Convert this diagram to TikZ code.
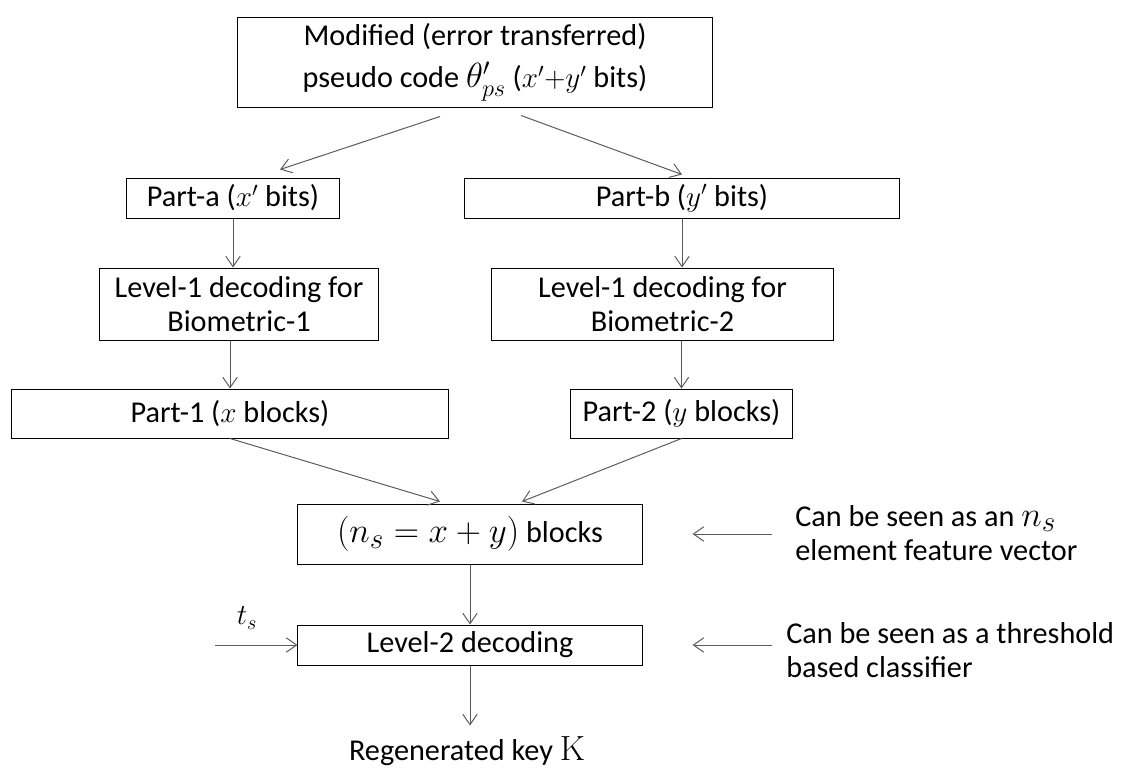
\documentclass[tikz,border=0pt]{standalone}
\usepackage[no-math]{fontspec}
\setmainfont{Carlito}
\usepackage{tikz}
\usetikzlibrary{arrows.meta,positioning}
\definecolor{linegray}{RGB}{90,90,90}
\newcommand\bigmath[1]{{\fontsize{30}{30}\selectfont$#1$}}
\newcommand\midmath[1]{{\fontsize{26}{26}\selectfont$#1$}}

\begin{document}
\begin{tikzpicture}[
    x=0.025cm, y=-0.025cm,
    font=\fontsize{21.5}{24}\selectfont,
    box/.style={
        rectangle, draw=black, fill=white,
        line width=0.7pt,
        align=center, inner sep=2pt
    },
    note/.style={anchor=west, align=left, inner sep=0pt},
    flow/.style={-{Straight Barb[length=2.6mm,width=3.6mm]}, draw=linegray, line width=0.7pt}
]

\useasboundingbox (0,0) rectangle (1122,769);

\node[box, minimum width=11.85cm, minimum height=2.225cm] (code) at (475,62.5) {Modified (error transferred)\\[6pt] pseudo code \midmath{\theta'_{ps}} ($x'{+}y'$ bits)};

\node[box, minimum width=5.3cm, minimum height=1cm] (pa) at (233,198) {Part-a ($x'$ bits)};
\node[box, minimum width=10.85cm, minimum height=1cm] (pb) at (682,198) {Part-b ($y'$ bits)};

\node[box, minimum width=6.95cm, minimum height=1.8cm] (deca) at (239,304) {Level-1 decoding for\\ Biometric-1};
\node[box, minimum width=8.525cm, minimum height=1.8cm] (decb) at (662.5,304) {Level-1 decoding for\\ Biometric-2};

\node[box, minimum width=10.9cm, minimum height=1.225cm] (p1) at (230,413.5) {Part-1 ($x$ blocks)};
\node[box, minimum width=5.525cm, minimum height=1.225cm] (p2) at (681.5,413.5) {Part-2 ($y$ blocks)};

\node[box, minimum width=8.6cm, minimum height=1.5cm] (blocks) at (470,534) {\bigmath{(n_s = x + y)} blocks};
\node[box, minimum width=8.6cm, minimum height=1cm] (dec2) at (470,645) {Level-2 decoding};
\node (key) at (467,751) {Regenerated key \midmath{\mathrm{K}}};

\node[font=\fontsize{22}{22}\selectfont] (tsl) at (247,618) {$t_s$};
\coordinate (tsin) at (215,645);

\node[note] (n1) at (795,533) {Can be seen as an \bigmath{n_s}\\ element feature vector};
\node[note] (n2) at (786,650) {Can be seen as a threshold\\ based classifier};

\draw[flow] ([shift={(-35,9)}]code.south) -- ([shift={(47,-8)}]pa.north);
\draw[flow] ([shift={(46,8)}]code.south) -- ([shift={(0,-3)}]pb.north);
\draw[flow] (pa.south) -- (pa.south |- deca.north);
\draw[flow] (pb.south) -- (pb.south |- decb.north);
\draw[flow] (p1.north |- deca.south) -- (p1.north);
\draw[flow] (p2.north |- decb.south) -- (p2.north);
\draw[flow] (p1.south) -- ([shift={(-30,-2)}]blocks.north);
\draw[flow] (p2.south) -- ([shift={(52,-2)}]blocks.north);
\draw[flow] (blocks.south) -- (dec2.north);
\draw[flow, shorten >=0.15cm] (dec2.south) -- (key.north -| dec2.south);
\draw[flow] (tsin) -- (dec2.west);
\draw[flow, shorten <=0.575cm, shorten >=1.25cm] (n1.west |- blocks.east) -- (blocks.east);
\draw[flow, shorten <=0.35cm, shorten >=1.25cm] (n2.west |- dec2.east) -- (dec2.east);

\end{tikzpicture}
\end{document}
